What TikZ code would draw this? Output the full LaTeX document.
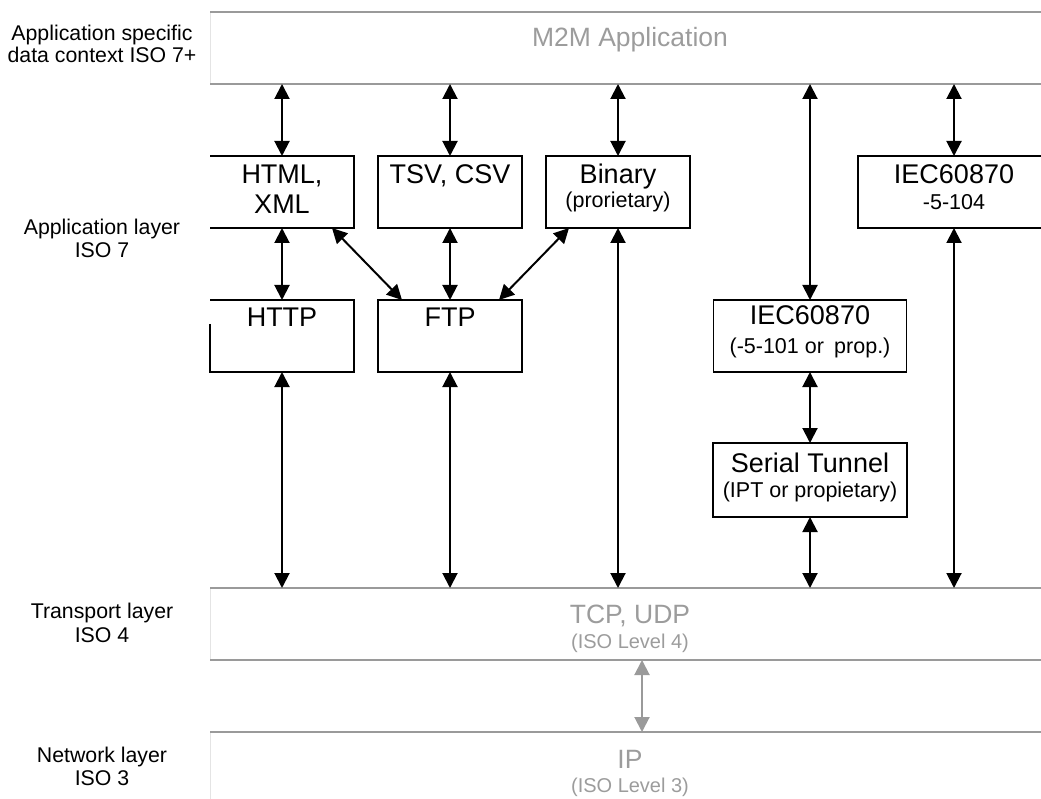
\documentclass[tikz,border=0pt]{standalone}
\usepackage{fontspec}
\setmainfont{Liberation Sans}
\usetikzlibrary{arrows.meta,calc}
\definecolor{bandgray}{HTML}{9A9A9A}
\definecolor{txtgray}{HTML}{9C9C9C}
\definecolor{edgegray}{HTML}{E4E4E4}
\begin{document}
\begin{tikzpicture}[x=1pt,y=-1pt,
  every node/.style={inner sep=0pt,outer sep=0pt},
  band/.style={minimum width=840pt,minimum height=72pt},
  bandline/.style={draw=bandgray,line width=2pt},
  bandedge/.style={draw=edgegray,line width=0.8pt},
  box/.style={minimum width=144pt,minimum height=72pt},
  boxed/.style={box,draw,line width=1.8pt},
  edge/.style={draw,line width=1.8pt},
  main/.style={anchor=base,font=\fontsize{27}{30}\selectfont},
  sub/.style={anchor=base,font=\fontsize{21.5}{25}\selectfont},
  side/.style={anchor=base,font=\fontsize{21.3}{23}\selectfont},
  layer/.style={anchor=base,text=txtgray,font=\fontsize{26.5}{30}\selectfont},
  layersub/.style={anchor=base,text=txtgray,font=\fontsize{20}{23}\selectfont},
  link/.style={line width=2pt,{Triangle[length=15pt,width=15pt]}-{Triangle[length=15pt,width=15pt]}},
  glink/.style={link,color=bandgray}
]
\useasboundingbox (0,0) rectangle (1041,799);

% protocol layers (bands)
\node[band] (app) at (630,48) {};
\node[band] (tcp) at (630,624) {};
\node[band] (ip)  at (630,768) {};
\foreach \b in {app,tcp,ip}{
  \draw[bandedge] (\b.north west) -- (\b.south west);
  \draw[bandline] (\b.north west) -- (\b.north east);
}
\draw[bandline] (app.south west) -- (app.south east);
\draw[bandline] (tcp.south west) -- (tcp.south east);

\node[layer] (m2m) at (630,47) {M2M Application};
\node[layer] (tcpt) at (630,623) {TCP, UDP};
\node[layersub] (tcps) at (630,648) {(ISO Level 4)};
\node[layer] (ipt) at (630,768) {IP};
\node[layersub] (ips) at (630,792) {(ISO Level 3)};

% layer names on the left
\node[side] (la1) at (102,41) {Application specific};
\node[side] (la2) at (102,63) {data context ISO 7+};
\node[side] (lb1) at (102,235) {Application layer};
\node[side] (lb2) at (102,258) {ISO 7};
\node[side] (lc1) at (102,618) {Transport layer};
\node[side] (lc2) at (102,642) {ISO 4};
\node[side] (ld1) at (102,762) {Network layer};
\node[side] (ld2) at (102,785) {ISO 3};

% protocol boxes
\node[box] (html) at (282,192) {};
\draw[edge] (html.north west) -- (html.north east) -- (html.south east) -- (html.south west);
\node[main] (htmlt1) at (282,184) {HTML,};
\node[main] (htmlt2) at (282,214) {XML};

\node[box] (http) at (282,336) {};
\draw[edge] ($(http.south west)+(0,-48)$) -- (http.south west) -- (http.south east) -- (http.north east) -- (http.north west);
\node[main] (httpt) at (282,327) {HTTP};

\node[boxed] (tsv) at (450,192) {};
\node[main] (tsvt) at (450,184) {TSV, CSV};

\node[boxed] (ftp) at (450,336) {};
\node[main] (ftpt) at (450,327) {FTP};

\node[boxed] (binary) at (618,192) {};
\node[main] (binaryt) at (618,184) {Binary};
\node[sub] (binarys) at (618,208) {(prorietary)};

\node[boxed,minimum width=193pt] (iec101) at (810,336) {};
\node[main] (iec101t) at (810,325) {IEC60870};
\node[sub] (iec101s) at (810,353) {(-5-101 or\hspace{0.2em} prop.)};

\node[boxed,minimum width=194pt,minimum height=74pt] (serial) at (810,480) {};
\node[main] (serialt) at (810,472) {Serial Tunnel};
\node[sub] (serials) at (810,497) {(IPT or propietary)};

\node[boxed,minimum width=192pt] (iec104) at (954,192) {};
\node[main] (iec104t) at (954,184) {IEC60870};
\node[sub] (iec104s) at (954,210) {-5-104};

% links to the application band
\foreach \n in {html,tsv,binary,iec101,iec104}
  \draw[link] (app.south -| \n.north) -- (\n.north);

% links inside the application layer
\draw[link] (html.south) -- (http.north);
\draw[link] (tsv.south) -- (ftp.north);
\draw[link] ($(html.south east)+(-22,0)$) -- ($(ftp.north west)+(24,0)$);
\draw[link] ($(binary.south west)+(23,0)$) -- ($(ftp.north east)+(-23,0)$);
\draw[link] (iec101.south) -- (serial.north);

% links down to the transport band
\foreach \n in {http,ftp,binary,serial,iec104}
  \draw[link] (\n.south) -- (tcp.north -| \n.south);

% transport to network
\coordinate (tcpip) at (642,700);
\draw[glink] (tcp.south -| tcpip) -- (ip.north -| tcpip);
\end{tikzpicture}
\end{document}
